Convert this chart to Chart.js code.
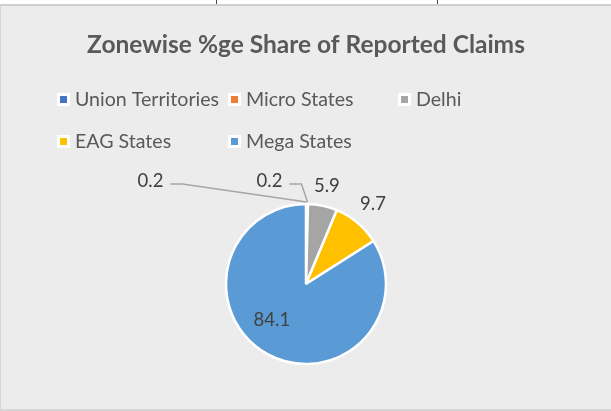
<!DOCTYPE html>
<html>
<head>
<meta charset="utf-8">
<script src="https://cdn.jsdelivr.net/npm/chart.js@4.4.1/dist/chart.umd.min.js"></script>
<style>
    html, body { margin: 0; padding: 0; background: #ececec; }
    #wrap { width: 611px; height: 411px; }
</style>
</head>
<body>
<div id="wrap"><canvas id="claims-chart" width="611" height="411"></canvas></div>
<script>
// data
const chartTitle = 'Zonewise %ge Share of Reported Claims';
const zones = ['Union Territories', 'Micro States', 'Delhi', 'EAG States', 'Mega States'];
const shares = [0.2, 0.2, 5.9, 9.7, 84.1];
const zoneColors = ['#4472C4', '#ED7D31', '#A5A5A5', '#FFC000', '#5B9BD5'];

// how each data label sits (Excel style placement)
const labelPlacement = [
    { mode: 'leader', dx: -156, dy: -22 },
    { mode: 'leader', dx: -38, dy: -22 },
    { mode: 'out', dist: 20 },
    { mode: 'out', dist: 24 },
    { mode: 'in', frac: 0.6, dx: -11, dy: -6 }
];

const FONT = 'Lato, "Open Sans", sans-serif';

// background, title, legend and labels
const decorPlugin = {
    id: 'decor',
    beforeDraw(chart) {
        const ctx = chart.ctx;
        ctx.save();
        ctx.fillStyle = '#ececec';
        ctx.fillRect(0, 0, 611, 411);
        // sheet strip at the top
        ctx.fillStyle = '#ffffff';
        ctx.fillRect(0, 0, 611, 4);
        ctx.fillStyle = '#444444';
        ctx.fillRect(216, 0, 1, 4);
        ctx.fillRect(437, 0, 1, 4);
        ctx.fillStyle = '#cfcfcf';
        ctx.fillRect(0, 4, 611, 2);
        ctx.fillStyle = '#d6d6d6';
        ctx.fillRect(0, 4, 1, 407);
        ctx.fillRect(0, 409, 611, 2);
        ctx.restore();
    },
    afterDraw(chart) {
        const ctx = chart.ctx;
        ctx.save();

        // title
        ctx.fillStyle = '#595959';
        ctx.font = 'bold 24.5px ' + FONT;
        ctx.textAlign = 'center';
        ctx.textBaseline = 'middle';
        ctx.fillText(chartTitle, 306, 45);

        // legend in a grid of three columns
        const colX = [57, 228, 398];
        const rowY = [99, 141];
        ctx.font = '19.6px ' + FONT;
        ctx.textAlign = 'left';
        zones.forEach((name, i) => {
            const x = colX[i % 3];
            const y = rowY[Math.floor(i / 3)];
            ctx.fillStyle = '#ffffff';
            ctx.fillRect(x, y - 6, 13, 13);
            ctx.fillStyle = zoneColors[i];
            ctx.fillRect(x + 3, y - 3, 7, 7);
            ctx.fillStyle = '#595959';
            ctx.fillText(name, x + 18, y + 1);
        });

        // data labels
        const meta = chart.getDatasetMeta(0);
        ctx.font = '18.5px ' + FONT;
        ctx.textAlign = 'center';
        meta.data.forEach((arc, i) => {
            const p = labelPlacement[i];
            const mid = (arc.startAngle + arc.endAngle) / 2;
            const R = arc.outerRadius;
            const text = shares[i].toFixed(1);
            let lx, ly;
            if (p.mode === 'in') {
                lx = arc.x + Math.cos(mid) * R * p.frac + p.dx;
                ly = arc.y + Math.sin(mid) * R * p.frac + p.dy;
            } else if (p.mode === 'out') {
                lx = arc.x + Math.cos(mid) * (R + p.dist);
                ly = arc.y + Math.sin(mid) * (R + p.dist);
            } else {
                const ex = arc.x + Math.cos(mid) * (R + 1);
                const ey = arc.y + Math.sin(mid) * (R + 1);
                lx = ex + p.dx;
                ly = ey + p.dy;
                const w = ctx.measureText(text).width;
                const sx = lx + w / 2 + 7;
                const sy = ly + 3;
                ctx.strokeStyle = '#a6a6a6';
                ctx.lineWidth = 1.5;
                ctx.beginPath();
                ctx.moveTo(sx, sy);
                ctx.lineTo(sx + 12, sy);
                ctx.lineTo(ex, ey - 1);
                ctx.stroke();
            }
            ctx.fillStyle = '#404040';
            ctx.fillText(text, lx, ly);
        });

        ctx.restore();
    }
};

new Chart(document.getElementById('claims-chart'), {
    type: 'pie',
    data: {
        labels: zones,
        datasets: [{
            data: shares,
            backgroundColor: zoneColors,
            borderColor: '#ffffff',
            borderWidth: 2.5
        }]
    },
    options: {
        responsive: false,
        animation: false,
        devicePixelRatio: 1,
        radius: 80,
        layout: {
            padding: { left: 226, right: 225, top: 204, bottom: 47 }
        },
        plugins: {
            legend: { display: false },
            title: { display: false },
            tooltip: { enabled: false }
        }
    },
    plugins: [decorPlugin]
});
</script>
</body>
</html>
